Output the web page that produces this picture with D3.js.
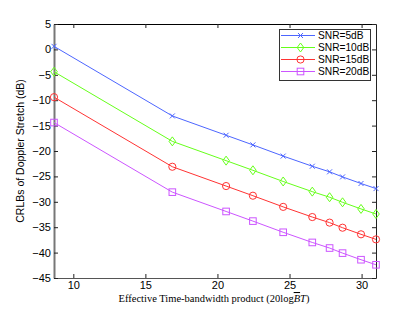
<!DOCTYPE html>
<html>
<head>
<meta charset="utf-8">
<script src="https://cdn.jsdelivr.net/npm/d3@7"></script>
<style>
  body { margin: 0; background: #fff; }
  text { font-family: "Liberation Sans", Arial, sans-serif; }
</style>
</head>
<body>
<div id="chart"></div>
<script>
// Effective time-bandwidth product (x) shared by all series
const xValues = [8.66, 16.87, 20.6, 22.46, 24.56, 26.58, 27.78, 28.68, 29.96, 31.0];
const snr5  = [0.6, -13.1, -16.9, -18.8, -21.0, -23.0, -24.1, -25.1, -26.4, -27.4];
const snr10 = [-4.4, -18.1, -21.9, -23.8, -26.0, -28.0, -29.1, -30.1, -31.4, -32.4];
const snr15 = [-9.4, -23.1, -26.9, -28.8, -31.0, -33.0, -34.1, -35.1, -36.4, -37.4];
const snr20 = [-14.4, -28.1, -31.9, -33.8, -36.0, -38.0, -39.1, -40.1, -41.4, -42.4];
const seriesNames = ["SNR=5dB", "SNR=10dB", "SNR=15dB", "SNR=20dB"];
const xTicks = [10, 15, 20, 25, 30];
const yTicks = [5, 0, -5, -10, -15, -20, -25, -30, -35, -40, -45];

const width = 415, height = 313;
const margin = {left: 54, right: 39, top: 24, bottom: 35};

const svg = d3.select("#chart").append("svg")
    .attr("width", width)
    .attr("height", height);

const x = d3.scaleLinear().domain([8.66, 31]).range([margin.left, width - margin.right]);
const y = d3.scaleLinear().domain([-45, 5]).range([height - margin.bottom, margin.top]);

const series = [
    {name: seriesNames[0], values: snr5,  color: "#4d66ff", marker: "x"},
    {name: seriesNames[1], values: snr10, color: "#66ff1a", marker: "diamond"},
    {name: seriesNames[2], values: snr15, color: "#ff3333", marker: "circle"},
    {name: seriesNames[3], values: snr20, color: "#cc55ff", marker: "square"}
];

// Axes box with inward ticks on all sides
const tickLen = 4;
const gx = svg.append("g").attr("transform", `translate(0,${y(-45)})`)
    .call(d3.axisBottom(x).tickValues(xTicks).tickSizeInner(-tickLen).tickSizeOuter(0).tickPadding(3));
const gxTop = svg.append("g").attr("transform", `translate(0,${y(5)})`)
    .call(d3.axisTop(x).tickValues(xTicks).tickSizeInner(-tickLen).tickSizeOuter(0).tickFormat(""));
const gy = svg.append("g").attr("transform", `translate(${x(8.66)},0)`)
    .call(d3.axisLeft(y).tickValues(yTicks).tickSizeInner(-tickLen).tickSizeOuter(0).tickPadding(3)
        .tickFormat(d => d < 0 ? "\u2212" + Math.abs(d) : d));
const gyRight = svg.append("g").attr("transform", `translate(${x(31)},0)`)
    .call(d3.axisRight(y).tickValues(yTicks).tickSizeInner(-tickLen).tickSizeOuter(0).tickFormat(""));

[gx, gxTop, gy, gyRight].forEach(g => {
    g.selectAll("text").attr("font-size", "11px").attr("fill", "#000")
        .style("font-family", "'Liberation Sans', Arial, sans-serif");
    g.selectAll("line").attr("stroke", "#222");
});
gx.select(".domain").attr("stroke", "#555").attr("stroke-width", 1.2);
gy.select(".domain").attr("stroke", "#777").attr("stroke-width", 2);
gxTop.select(".domain").attr("stroke", "#000");
gyRight.select(".domain").attr("stroke", "#222");

// Lines
const line = d3.line().x((d, i) => x(xValues[i])).y(d => y(d));
const plot = svg.append("g");

series.forEach(s => {
    plot.append("path")
        .attr("d", line(s.values))
        .attr("fill", "none")
        .attr("stroke", s.color)
        .attr("stroke-width", 1);
    s.values.forEach((v, i) => drawMarker(plot, s.marker, x(xValues[i]), y(v), s.color));
});

function drawMarker(g, type, cx, cy, color) {
    if (type === "x") {
        g.append("path").attr("d", `M${cx-2.5},${cy-2.5}L${cx+2.5},${cy+2.5}M${cx-2.5},${cy+2.5}L${cx+2.5},${cy-2.5}`)
            .attr("stroke", color).attr("stroke-width", 1);
    } else if (type === "diamond") {
        g.append("path").attr("d", `M${cx},${cy-4.5}L${cx+3.3},${cy}L${cx},${cy+4.5}L${cx-3.3},${cy}Z`)
            .attr("fill", "none").attr("stroke", color).attr("stroke-width", 1);
    } else if (type === "circle") {
        g.append("circle").attr("cx", cx).attr("cy", cy).attr("r", 3.6)
            .attr("fill", "none").attr("stroke", color).attr("stroke-width", 1);
    } else {
        g.append("rect").attr("x", cx - 3.3).attr("y", cy - 3.3).attr("width", 6.6).attr("height", 6.6)
            .attr("fill", "none").attr("stroke", color).attr("stroke-width", 1);
    }
}

// Legend
const legend = svg.append("g");
legend.append("rect")
    .attr("x", 279.5).attr("y", 29.5).attr("width", 91).attr("height", 51)
    .attr("fill", "#fff").attr("stroke", "#333").attr("stroke-width", 1);
series.forEach((s, i) => {
    const ly = 35.5 + i * 12;
    legend.append("line").attr("x1", 281).attr("x2", 315).attr("y1", ly).attr("y2", ly)
        .attr("stroke", s.color).attr("stroke-width", 1);
    drawMarker(legend, s.marker, 300.5, ly, s.color);
    legend.append("text").attr("x", 318).attr("y", ly + 3.8)
        .attr("font-size", "10.2px").attr("fill", "#000").text(s.name);
});

// Axis labels
svg.append("text")
    .attr("transform", `translate(24,${(y(5) + y(-45)) / 2}) rotate(-90)`)
    .attr("text-anchor", "middle")
    .attr("font-size", "10.5px")
    .text("CRLBs of Doppler Stretch (dB)");

const xl = svg.append("text")
    .attr("x", (x(8.66) + x(31)) / 2 - 1)
    .attr("y", 302)
    .attr("text-anchor", "middle")
    .attr("font-size", "10.5px")
    .style("font-family", "'Liberation Serif', 'Times New Roman', serif");
xl.append("tspan").text("Effective Time-bandwidth product (20log");
xl.append("tspan").attr("font-style", "italic").attr("text-decoration", "overline").text("B");
xl.append("tspan").attr("font-style", "italic").text("T");
xl.append("tspan").text(")");
</script>
</body>
</html>
